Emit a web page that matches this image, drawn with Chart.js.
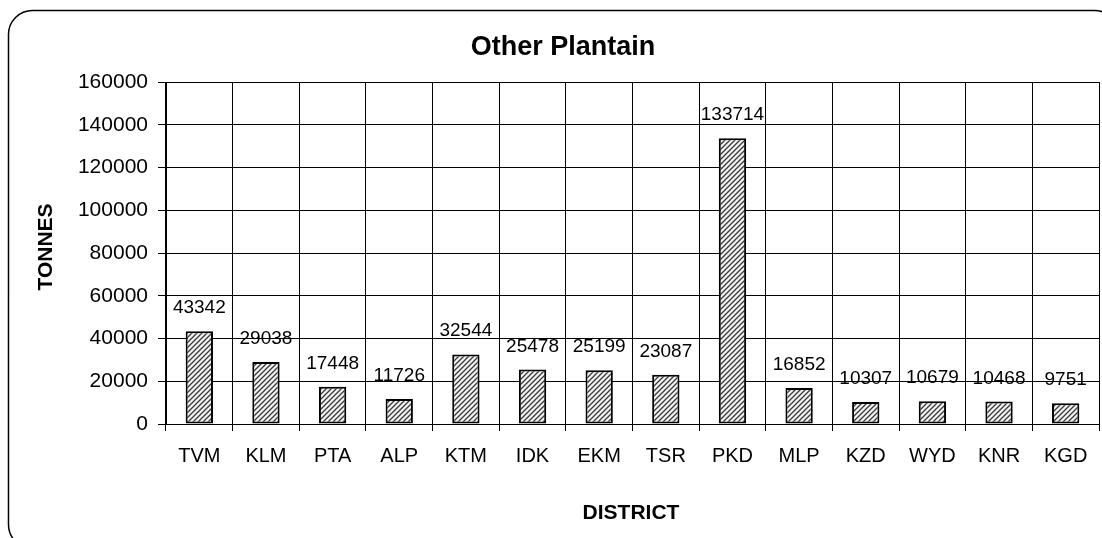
<!DOCTYPE html>
<html><head><meta charset="utf-8">
<script src="https://cdn.jsdelivr.net/npm/chart.js@4.4.1/dist/chart.umd.min.js"></script>
<style>html,body{margin:0;padding:0;background:#fff;overflow:hidden;} canvas{display:block;}</style>
</head><body>
<canvas id="c" width="1102" height="538"></canvas>
<script>
const categories = ["TVM","KLM","PTA","ALP","KTM","IDK","EKM","TSR","PKD","MLP","KZD","WYD","KNR","KGD"];
const values = [43342,29038,17448,11726,32544,25478,25199,23087,133714,16852,10307,10679,10468,9751];
const yMin = 0, yMax = 160000, yStep = 20000;
const chartTitle = "Other Plantain";
const xTitle = "DISTRICT";
const yTitle = "TONNES";

const FONT = "'Liberation Sans', Arial, Helvetica, sans-serif";

function makeHatch(){
  const s = 5;
  const p = document.createElement('canvas');
  p.width = s; p.height = s;
  const g = p.getContext('2d');
  g.fillStyle = '#f2f2f2';
  g.fillRect(0,0,s,s);
  g.strokeStyle = '#3a3a3a';
  g.lineWidth = 1.3;
  g.beginPath();
  g.moveTo(-1, s+1); g.lineTo(s+1, -1);
  g.moveTo(-1, 1); g.lineTo(1, -1);
  g.moveTo(s-1, s+1); g.lineTo(s+1, s-1);
  g.stroke();
  return document.getElementById('c').getContext('2d').createPattern(p, 'repeat');
}

const frame = {
  id: 'frame',
  beforeDraw(chart){
    const ctx = chart.ctx;
    ctx.save();
    ctx.fillStyle = '#fff';
    ctx.fillRect(0,0,chart.width,chart.height);
    const x=8.5,y=10.5,w=1110,h=538,r=24;
    ctx.beginPath();
    ctx.moveTo(x+r,y);
    ctx.lineTo(x+w-r,y);
    ctx.arcTo(x+w,y,x+w,y+r,r);
    ctx.lineTo(x+w,y+h-r);
    ctx.arcTo(x+w,y+h,x+w-r,y+h,r);
    ctx.lineTo(x+r,y+h);
    ctx.arcTo(x,y+h,x,y+h-r,r);
    ctx.lineTo(x,y+r);
    ctx.arcTo(x,y,x+r,y,r);
    ctx.closePath();
    ctx.strokeStyle = '#000';
    ctx.lineWidth = 1.5;
    ctx.stroke();
    ctx.restore();
  }
};

const labelsPlugin = {
  id: 'texts',
  afterDatasetsDraw(chart){
    const ctx = chart.ctx;
    ctx.save();
    ctx.fillStyle = '#000';
    ctx.textAlign = 'center';
    ctx.textBaseline = 'alphabetic';
    ctx.font = "19px " + FONT;
    const meta = chart.getDatasetMeta(0);
    meta.data.forEach((el, i) => {
      ctx.fillText(String(values[i]), el.x, el.y - 18);
    });
    // titles
    ctx.textBaseline = 'middle';
    ctx.font = "bold 27px " + FONT;
    ctx.fillText(chartTitle, 563, 48);
    ctx.font = "bold 21px " + FONT;
    ctx.fillText(xTitle, 631, 513);
    ctx.translate(46, 247);
    ctx.rotate(-Math.PI/2);
    ctx.fillText(yTitle, 0, 0);
    ctx.restore();
  }
};

new Chart(document.getElementById('c'), {
  type: 'bar',
  data: {
    labels: categories,
    datasets: [{
      data: values,
      backgroundColor: makeHatch(),
      borderColor: '#000',
      borderWidth: 2,
      borderSkipped: false,
      categoryPercentage: 1,
      barPercentage: 0.41
    }]
  },
  options: {
    responsive: false,
    animation: false,
    devicePixelRatio: 1,
    layout: { padding: { left: 0, right: 3, top: 82, bottom: 0 } },
    plugins: { legend: { display: false }, tooltip: { enabled: false }, title: { display: false } },
    scales: {
      x: {
        afterFit(s){ s.height = 114; },
        grid: { offset: true, color: '#000', lineWidth: 1, tickLength: 7, drawTicks: true },
        border: { display: true, color: '#000' },
        ticks: { color: '#000', font: { family: FONT, size: 20 }, padding: 13, maxRotation: 0, autoSkip: false }
      },
      y: {
        min: yMin, max: yMax,
        afterFit(s){ s.width = 166; },
        grid: { color: '#000', lineWidth: 1, tickLength: 8, drawTicks: true },
        border: { display: true, color: '#000' },
        ticks: { stepSize: yStep, color: '#000', font: { family: FONT, size: 21 }, padding: 10, callback: v => String(v) }
      }
    }
  },
  plugins: [frame, labelsPlugin]
});
</script>
</body></html>
